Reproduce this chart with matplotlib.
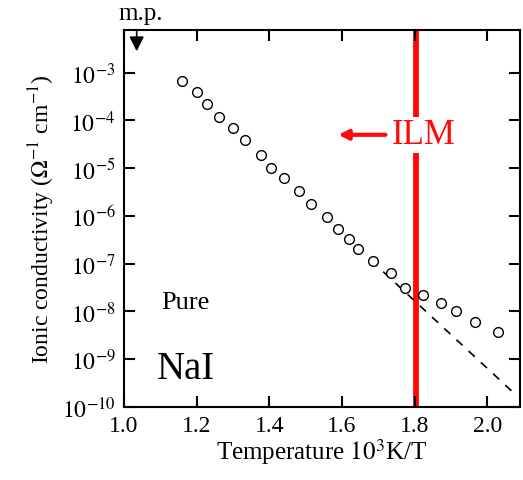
import numpy as np
import matplotlib
matplotlib.use("Agg")
import matplotlib.pyplot as plt
from matplotlib.ticker import FixedLocator, NullLocator

plt.rcParams['font.family'] = ['Liberation Serif', 'DejaVu Serif']
plt.rcParams['mathtext.fontset'] = 'stix'

# conductivity data (inverse temperature, log10 sigma)
inv_temp = [1.161, 1.200, 1.229, 1.263, 1.299, 1.332, 1.377, 1.406, 1.440, 1.483,
            1.515, 1.559, 1.590, 1.620, 1.643, 1.686, 1.734, 1.775, 1.823, 1.874,
            1.915, 1.966, 2.031]
log_sigma = [-3.17, -3.40, -3.65, -3.93, -4.15, -4.40, -4.72, -4.99, -5.20, -5.48,
             -5.75, -6.03, -6.28, -6.49, -6.70, -6.94, -7.19, -7.50, -7.66, -7.83,
             -8.00, -8.22, -8.43]

# extrapolated intrinsic line
fit_x = [1.68, 2.075]
fit_log = [-6.93, -9.72]

ilm_x = 1.805
mp_x = 1.035

x_ticks = [1.0, 1.2, 1.4, 1.6, 1.8, 2.0]
y_exps = [-10, -9, -8, -7, -6, -5, -4, -3]

fig = plt.figure(figsize=(5.23, 4.81), dpi=100)
ax = fig.add_axes([0.237, 0.152, 0.757, 0.784])

sigma = 10.0 ** np.array(log_sigma)
ax.plot(inv_temp, sigma, 'o', mfc='white', mec='black', ms=7, mew=1.0, zorder=3)
ax.plot(fit_x, 10.0 ** np.array(fit_log), '--', color='black', lw=1.2,
        dashes=(5, 5), zorder=2)

ax.set_yscale('log')
ax.set_xlim(1.0, 2.09)
ax.set_ylim(1e-10, 10 ** -2.1)

# red ILM line with text gap
ax.axvline(ilm_x, color='#ff0a0a', lw=4.2, zorder=1)
ax.text(ilm_x + 0.02, 10 ** -4.3, 'ILM', color='#ff0a0a', fontsize=25,
        ha='center', va='center', zorder=4,
        bbox=dict(facecolor='white', edgecolor='none', pad=1))
ax.annotate('', xy=(1.59, 10 ** -4.3), xytext=(1.72, 10 ** -4.3),
            arrowprops=dict(arrowstyle='-|>', color='#ff0a0a', lw=3,
                            mutation_scale=14, shrinkA=0, shrinkB=0))

# melting point marker
ax.annotate('', xy=(mp_x, 10 ** -2.55), xytext=(mp_x, 10 ** -2.1),
            arrowprops=dict(arrowstyle='-|>', color='black', lw=1.2,
                            mutation_scale=22, shrinkA=0, shrinkB=0),
            annotation_clip=False)
ax.text(mp_x + 0.01, 10 ** -1.75, 'm.p.', fontsize=18, ha='center', va='center',
        clip_on=False)

ax.text(1.17, 10 ** -7.8, 'Pure', fontsize=19, ha='center', va='center')
ax.text(1.17, 10 ** -9.2, 'NaI', fontsize=28, ha='center', va='center')

ax.xaxis.set_major_locator(FixedLocator(x_ticks))
ax.set_xticklabels(['%.1f' % v for v in x_ticks])
ax.yaxis.set_major_locator(FixedLocator([10.0 ** e for e in y_exps]))
ax.set_yticklabels([r'$10^{%d}$' % e for e in y_exps])
ax.yaxis.set_minor_locator(NullLocator())
ax.xaxis.set_minor_locator(NullLocator())

ax.tick_params(axis='both', which='major', direction='in', length=8, width=1.5,
               top=True, right=True, labelsize=17, pad=6)
for s in ax.spines.values():
    s.set_linewidth(1.5)

ax.set_xlabel(r'Temperature $10^3$K/T', fontsize=18, labelpad=0)
ax.set_ylabel(r'Ionic conductivity ($\Omega^{-1}$ cm$^{-1}$)', fontsize=17,
              labelpad=4)

fig.savefig('out.png', dpi=100)
